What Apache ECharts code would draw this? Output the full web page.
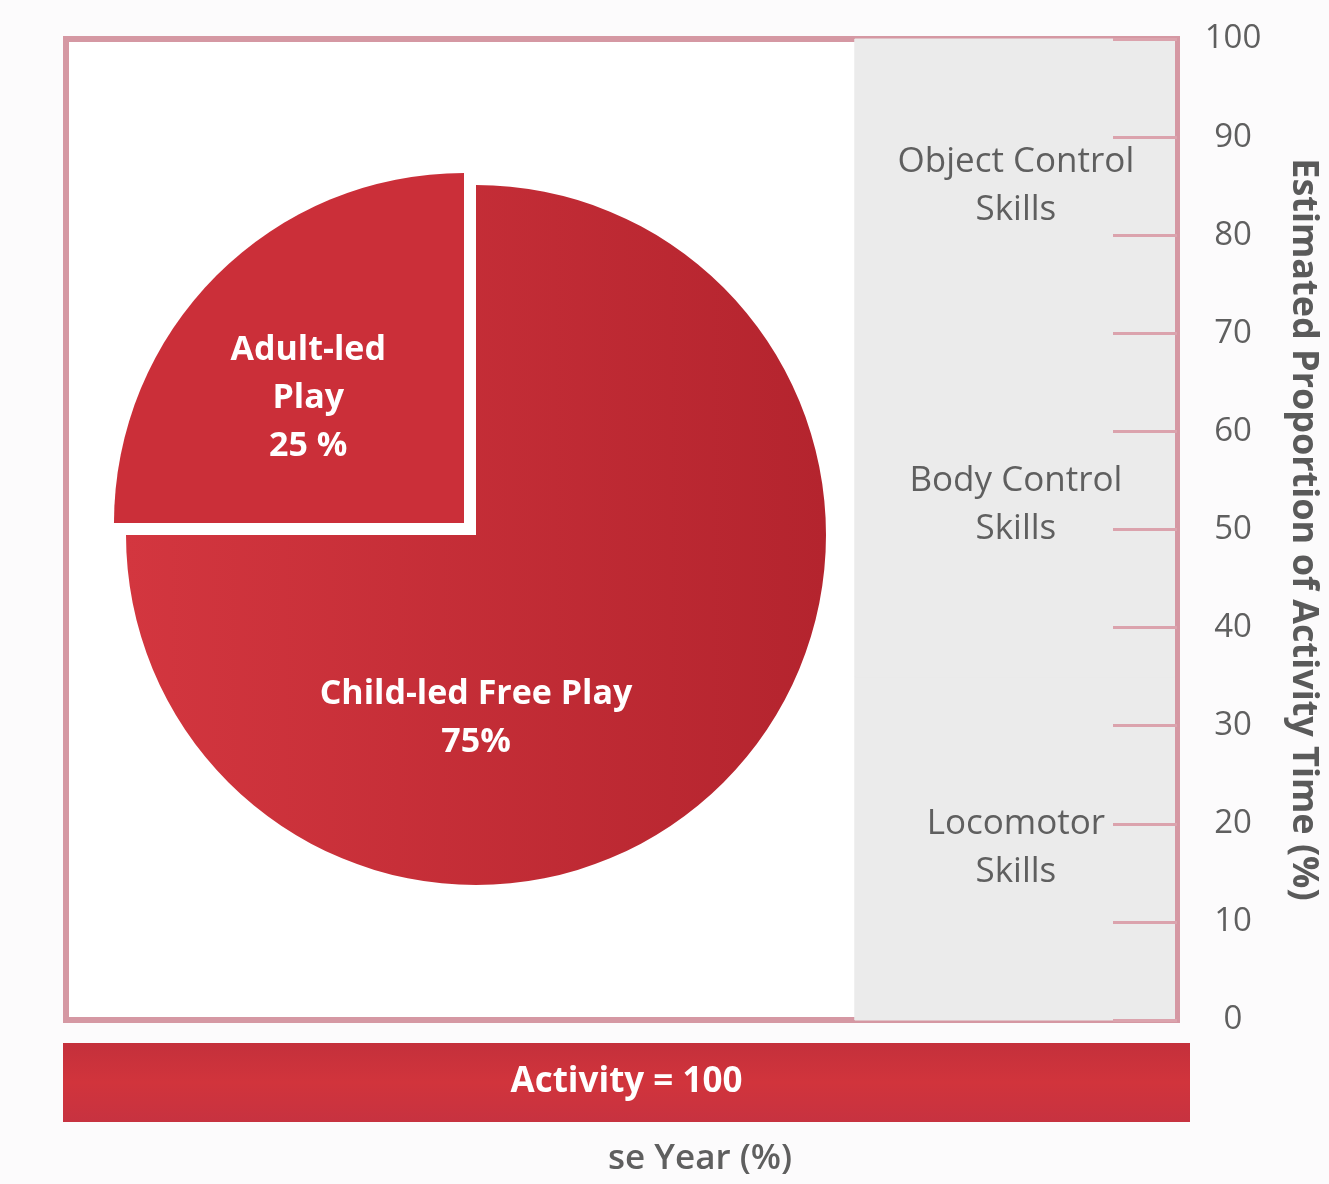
<!DOCTYPE html>
<html>
<head>
<meta charset="utf-8">
<title>Activity time by play type and skill area</title>
<script src="https://cdn.jsdelivr.net/npm/echarts@6/dist/echarts.min.js"></script>
<style>
  html, body { margin: 0; padding: 0; background: #fcfbfc; }
  #chart { width: 1329px; height: 1184px; }
</style>
</head>
<body>
<div id="chart"></div>
<script>
// Share of activity time by who leads the play
const playTypes = ['Adult-led\nPlay', 'Child-led Free Play'];
const playShares = [25, 75];
const shareSuffix = [' %', '%'];

// Skill areas along the right-hand scale (start / end, % of activity time)
const skillNames = ['Locomotor\nSkills', 'Body Control\nSkills', 'Object Control\nSkills'];
const skillFrom = [0, 35, 70];
const skillTo = [35, 70, 100];

// Right-hand scale
const scaleMin = 0;
const scaleMax = 100;
const scaleStep = 10;

// Total activity bar
const activityName = ['Activity'];
const activityValue = [100];

const FONT = '"Open Sans", "Noto Sans", sans-serif';

const chart = echarts.init(document.getElementById('chart'));

const skillBands = skillNames.map((name, i) => [
  { name: name, xAxis: 71, yAxis: skillFrom[i] },
  { xAxis: 100, yAxis: skillTo[i] }
]);

// Pie geometry: each share gets its own sector; the adult-led one is pulled out
const PIE_CX = 476, PIE_CY = 535, PIE_R = 350, PULL = 17, START = 180;
const shareTotal = playShares.reduce((a, b) => a + b, 0);
const sweeps = playShares.map((v) => 360 * v / shareTotal);

const sliceFills = [
  '#cb2f39',
  new echarts.graphic.LinearGradient(0, 0, 1, 0, [
    { offset: 0, color: '#d3363f' },
    { offset: 1, color: '#b4242e' }
  ])
];
// label anchor within each sector's bounding box (fraction of width / height)
const labelAnchor = [[0.555, 0.645], [0.5, 0.762]];

let angle = START;
const pieSeries = playTypes.map((name, i) => {
  const start = angle;
  const end = angle - sweeps[i];
  angle = end;
  const mid = (start + end) / 2 * Math.PI / 180;
  const pull = i === 0 ? PULL : 0;
  return {
    type: 'pie',
    center: [PIE_CX + pull * Math.cos(mid), PIE_CY - pull * Math.sin(mid)],
    radius: PIE_R,
    startAngle: start,
    endAngle: end,
    clockwise: true,
    silent: true,
    emphasis: { disabled: true },
    data: [{ name: name, value: playShares[i], itemStyle: { color: sliceFills[i] } }],
    labelLine: { show: false },
    label: {
      show: true,
      position: 'inside',
      color: '#ffffff',
      fontWeight: 'bold',
      fontSize: 34,
      lineHeight: 48,
      align: 'center',
      fontFamily: FONT,
      formatter: (p) => p.name + '\n' + p.value + shareSuffix[i]
    },
    labelLayout: (p) => {
      const r = p.rect;
      return {
        x: r.x + r.width * labelAnchor[i][0],
        y: r.y + r.height * labelAnchor[i][1],
        align: 'center',
        verticalAlign: 'middle'
      };
    }
  };
});

const option = {
  backgroundColor: '#fcfbfc',
  animation: false,
  textStyle: { fontFamily: FONT },
  grid: [
    {
      left: 66, top: 39, right: 149, bottom: 164,
      show: true,
      backgroundColor: '#ffffff',
      borderColor: '#d598a3',
      borderWidth: 6
    },
    { left: 63, right: 139, top: 1043, height: 79 }
  ],
  xAxis: [
    { gridIndex: 0, type: 'value', min: 0, max: 100, show: false },
    { gridIndex: 1, type: 'value', min: 0, max: 100, show: false }
  ],
  yAxis: [
    {
      gridIndex: 0,
      type: 'value',
      position: 'right',
      min: scaleMin,
      max: scaleMax,
      interval: scaleStep,
      z: 10,
      splitLine: { show: false },
      axisLine: { show: true, onZero: false, lineStyle: { color: '#d598a3', width: 5 } },
      axisTick: { show: true, inside: true, length: 64, lineStyle: { color: '#dba3ad', width: 3 } },
      axisLabel: { margin: 56, align: 'center', color: '#5f5f5f', fontSize: 33, fontFamily: FONT },
      name: 'Estimated Proportion of Activity Time (%)',
      nameLocation: 'middle',
      nameRotate: -90,
      nameGap: 108,
      nameTextStyle: { color: '#5a5a5a', fontSize: 36, fontWeight: 'bold', fontFamily: FONT }
    },
    { gridIndex: 1, type: 'category', data: activityName, show: false }
  ],
  series: [
    {
      type: 'scatter',
      xAxisIndex: 0,
      yAxisIndex: 0,
      data: [],
      silent: true,
      markArea: {
        silent: true,
        itemStyle: { color: '#ebebeb', borderColor: '#ebebeb', borderWidth: 1 },
        label: {
          show: true,
          position: 'inside',
          color: '#5f5f5f',
          fontSize: 35,
          lineHeight: 48,
          fontFamily: FONT
        },
        data: skillBands
      }
    },
    ...pieSeries,
    {
      type: 'bar',
      xAxisIndex: 1,
      yAxisIndex: 1,
      data: activityValue,
      barWidth: '100%',
      silent: true,
      itemStyle: {
        color: new echarts.graphic.LinearGradient(0, 0, 0, 1, [
          { offset: 0, color: '#c4303b' },
          { offset: 0.5, color: '#d1343c' },
          { offset: 1, color: '#c73240' }
        ])
      },
      label: {
        show: true,
        position: 'inside',
        formatter: '{b} = {c}',
        color: '#ffffff',
        fontWeight: 'bold',
        fontSize: 35,
        fontFamily: FONT
      }
    }
  ],
  graphic: [
    {
      type: 'text',
      left: 608,
      top: 1142,
      style: { text: 'se Year (%)', fill: '#5f5f5f', font: '600 35px ' + FONT }
    }
  ]
};

chart.setOption(option);
</script>
</body>
</html>
